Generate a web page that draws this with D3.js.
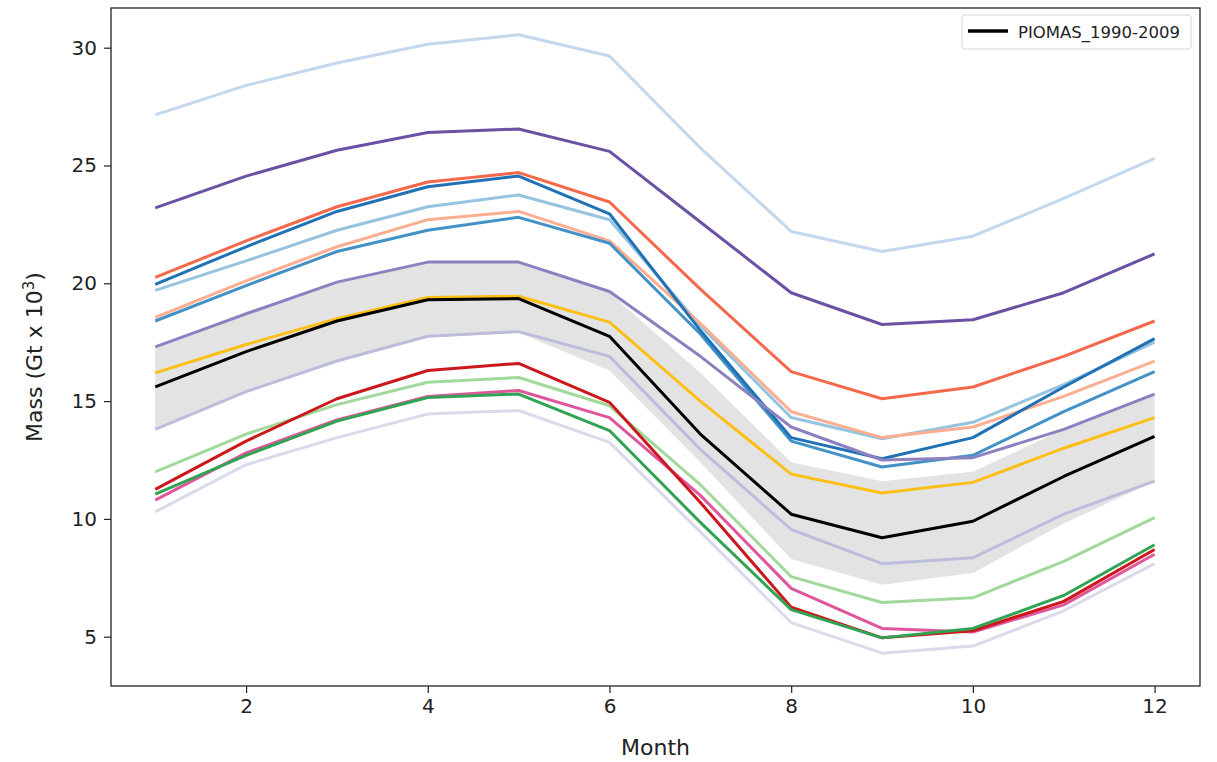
<!DOCTYPE html>
<html>
<head>
<meta charset="utf-8">
<script src="https://cdn.jsdelivr.net/npm/d3@7"></script>
<style>
    body { margin: 0; background: #ffffff; }
    text { font-family: "DejaVu Sans", sans-serif; fill: #222222; }
</style>
</head>
<body>
<svg id="chart" width="1217" height="762"></svg>
<script>
    // Months on the x axis
    var months = [1, 2, 3, 4, 5, 6, 7, 8, 9, 10, 11, 12];
    var xTicks = [2, 4, 6, 8, 10, 12];
    var yTicks = [5, 10, 15, 20, 25, 30];

    // PIOMAS 1990-2009 climatology and its spread
    var piomas = [15.6, 17.1, 18.4, 19.3, 19.35, 17.75, 13.6, 10.2, 9.2, 9.9, 11.8, 13.5];
    var bandTop = [17.3, 18.8, 20.0, 20.9, 20.9, 19.6, 16.2, 12.4, 11.6, 12.0, 13.8, 15.3];
    var bandBottom = [13.8, 15.4, 16.7, 17.7, 17.9, 16.3, 12.4, 8.3, 7.2, 7.7, 9.8, 11.6];

    // Model runs (unlabelled in the legend)
    var paleBlue = [27.15, 28.4, 29.35, 30.15, 30.55, 29.65, 25.75, 22.2, 21.35, 22.0, 23.6, 25.3];
    var darkPurple = [23.2, 24.55, 25.65, 26.4, 26.55, 25.6, 22.6, 19.6, 18.25, 18.45, 19.6, 21.25];
    var orangeRed = [20.25, 21.8, 23.25, 24.3, 24.7, 23.45, 19.75, 16.25, 15.1, 15.6, 16.9, 18.4];
    var darkBlue = [19.95, 21.55, 23.05, 24.1, 24.55, 22.95, 18.0, 13.45, 12.55, 13.45, 15.6, 17.65];
    var lightBlue = [19.7, 20.95, 22.25, 23.25, 23.75, 22.7, 18.2, 14.3, 13.4, 14.1, 15.7, 17.5];
    var salmon = [18.55, 20.1, 21.55, 22.7, 23.05, 21.8, 18.3, 14.55, 13.45, 13.9, 15.2, 16.7];
    var midBlue = [18.4, 19.9, 21.35, 22.25, 22.8, 21.7, 17.85, 13.3, 12.2, 12.7, 14.55, 16.25];
    var lavender = [17.3, 18.7, 20.05, 20.9, 20.9, 19.65, 16.9, 13.9, 12.5, 12.6, 13.8, 15.3];
    var golden = [16.2, 17.4, 18.5, 19.4, 19.45, 18.35, 15.0, 11.9, 11.1, 11.55, 13.0, 14.3];
    var paleLavender = [13.8, 15.4, 16.7, 17.75, 17.95, 16.9, 12.95, 9.55, 8.1, 8.35, 10.2, 11.6];
    var lightGreen = [12.0, 13.6, 14.85, 15.8, 16.0, 14.8, 11.45, 7.55, 6.45, 6.65, 8.2, 10.05];
    var crimson = [11.25, 13.3, 15.1, 16.3, 16.6, 14.95, 10.7, 6.25, 4.95, 5.25, 6.5, 8.7];
    var pink = [10.8, 12.8, 14.2, 15.2, 15.45, 14.3, 11.0, 7.05, 5.35, 5.2, 6.35, 8.5];
    var darkGreen = [11.05, 12.7, 14.15, 15.15, 15.3, 13.75, 9.85, 6.15, 4.95, 5.35, 6.75, 8.9];
    var faintLavender = [10.3, 12.3, 13.45, 14.45, 14.6, 13.25, 9.45, 5.6, 4.3, 4.6, 6.1, 8.1];

    var runs = [
        { values: paleBlue, color: "#c3d8ec" },
        { values: darkPurple, color: "#6a51a3" },
        { values: lightBlue, color: "#94c4e0" },
        { values: salmon, color: "#fcae91" },
        { values: midBlue, color: "#4292c6" },
        { values: orangeRed, color: "#f4694b" },
        { values: darkBlue, color: "#2171b5" },
        { values: lavender, color: "#8c80c0" },
        { values: paleLavender, color: "#bcbddc" },
        { values: golden, color: "#fbbf16" },
        { values: faintLavender, color: "#dadaeb" },
        { values: lightGreen, color: "#a1d99b" },
        { values: pink, color: "#e0569b" },
        { values: crimson, color: "#cb181d" },
        { values: darkGreen, color: "#31a354" }
    ];

    var svg = d3.select("#chart"),
        plotLeft = 111,
        plotRight = 1200,
        plotTop = 8,
        plotBottom = 686;

    var x = d3.scaleLinear().domain([0.513, 12.5]).range([plotLeft, plotRight]);
    var y = d3.scaleLinear().domain([2.907, 31.685]).range([plotBottom, plotTop]);

    var line = d3.line()
        .x(function (d, i) { return x(months[i]); })
        .y(function (d) { return y(d); });

    var area = d3.area()
        .x(function (d, i) { return x(months[i]); })
        .y0(function (d, i) { return y(bandBottom[i]); })
        .y1(function (d, i) { return y(bandTop[i]); });

    // Spread of the climatology
    svg.append("path")
        .datum(bandTop)
        .attr("d", area)
        .attr("fill", "#e3e3e3")
        .attr("stroke", "none");

    svg.selectAll(".run")
        .data(runs)
        .enter()
        .append("path")
        .attr("class", "run")
        .attr("d", function (d) { return line(d.values); })
        .attr("fill", "none")
        .attr("stroke", function (d) { return d.color; })
        .attr("stroke-width", 3)
        .attr("stroke-linejoin", "round");

    svg.append("path")
        .datum(piomas)
        .attr("d", line)
        .attr("fill", "none")
        .attr("stroke", "#000000")
        .attr("stroke-width", 3)
        .attr("stroke-linejoin", "round");

    // Axes
    var xAxis = svg.append("g")
        .attr("transform", "translate(0," + plotBottom + ")")
        .call(d3.axisBottom(x).tickValues(xTicks).tickSize(7).tickPadding(6).tickFormat(d3.format("d")));
    var yAxis = svg.append("g")
        .attr("transform", "translate(" + plotLeft + ",0)")
        .call(d3.axisLeft(y).tickValues(yTicks).tickSize(7).tickPadding(7).tickFormat(d3.format("d")));

    [xAxis, yAxis].forEach(function (g) {
        g.select(".domain").remove();
        g.selectAll("line").attr("stroke", "#222222").attr("stroke-width", 1.2);
        g.selectAll("text")
            .attr("font-family", "DejaVu Sans, sans-serif")
            .attr("font-size", 20)
            .attr("fill", "#222222");
    });

    svg.append("rect")
        .attr("x", plotLeft)
        .attr("y", plotTop)
        .attr("width", plotRight - plotLeft)
        .attr("height", plotBottom - plotTop)
        .attr("fill", "none")
        .attr("stroke", "#222222")
        .attr("stroke-width", 1.3);

    svg.append("text")
        .attr("x", (plotLeft + plotRight) / 2)
        .attr("y", 755)
        .attr("text-anchor", "middle")
        .attr("font-size", 22)
        .text("Month");

    var ylab = svg.append("text")
        .attr("transform", "translate(42," + ((plotTop + plotBottom) / 2 + 10) + ") rotate(-90)")
        .attr("text-anchor", "middle")
        .attr("font-size", 22);
    ylab.append("tspan").text("Mass (Gt x 10");
    ylab.append("tspan").attr("dy", -8).attr("font-size", 15).text("3");
    ylab.append("tspan").attr("dy", 8).text(")");

    // Legend
    var legend = svg.append("g").attr("transform", "translate(962,15)");
    legend.append("rect")
        .attr("width", 229)
        .attr("height", 34)
        .attr("rx", 3)
        .attr("fill", "#ffffff")
        .attr("fill-opacity", 0.8)
        .attr("stroke", "#d6d6d6")
        .attr("stroke-width", 1);
    legend.append("line")
        .attr("x1", 6)
        .attr("x2", 46)
        .attr("y1", 16)
        .attr("y2", 16)
        .attr("stroke", "#000000")
        .attr("stroke-width", 3.5);
    legend.append("text")
        .attr("x", 56)
        .attr("y", 23)
        .attr("font-size", 16.5)
        .text("PIOMAS_1990-2009");
</script>
</body>
</html>
